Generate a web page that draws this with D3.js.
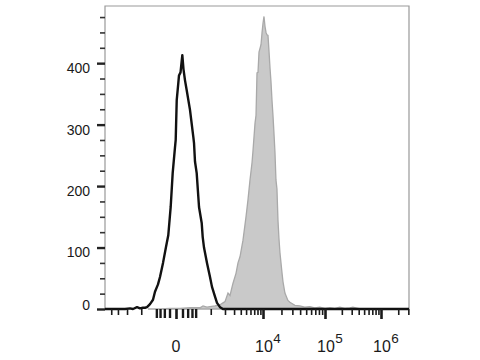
<!DOCTYPE html>
<html>
<head>
<meta charset="utf-8">
<script src="https://cdn.jsdelivr.net/npm/d3@7"></script>
<style>
  html, body { margin: 0; padding: 0; background: #fff; }
  svg { display: block; }
  text { font-family: "Liberation Sans", Arial, Helvetica, sans-serif; fill: #1a1a1a; }
</style>
</head>
<body>
<svg id="chart" width="480" height="360"></svg>
<script>
// ---- data (fluorescence value, event count) ----
const blackX = [-5200, -2192, -1742, -1511, -1243, -1068, -911, -816, -729, -610, -505, -441, -354, -301, -229, -166, -122, -80, -48, -14, -4, 10, 33, 43, 67, 97, 118, 146, 180, 252, 335, 354, 381, 431, 505, 599, 637, 688, 816, 961, 1067, 1243, 1372, 1585, 1825, 3080000];
const blackY = [0, 0, 1, 0, 3, 1, 2, 2, 3, 8, 15, 28, 40, 52, 75, 101, 120, 166, 221, 263, 275, 340, 368, 380, 385, 413, 390, 372, 356, 324, 280, 270, 240, 221, 166, 140, 117, 100, 75, 52, 36, 20, 10, 3, 0, 0];

const grayX = [-688, -301, -92, 59, 252, 538, 649, 816, 961, 1243, 1585, 1826, 2002, 2293, 2508, 2863, 3261, 3553, 3870, 4394, 4984, 5417, 5886, 6392, 6660, 7227, 7529, 7843, 8168, 8507, 9225, 9606, 10002, 10386, 10785, 11202, 11628, 12075, 12537, 13017, 13512, 14029, 14564, 15119, 15695, 16291, 16910, 17552, 18214, 18904, 20359, 21129, 22756, 25435, 27382, 32939, 39611, 47600, 57220, 68770, 82550, 100000, 122500, 150400, 184700, 226500, 278500, 315400, 421300, 3080000];
const grayY = [0, 0, 1, 1, 2, 2, 5, 3, 4, 5, 7, 10, 12, 26, 22, 42, 58, 75, 85, 112, 150, 178, 210, 238, 258, 302, 315, 384, 385, 418, 430, 449, 465, 476, 460, 450, 446, 445, 420, 393, 370, 340, 315, 286, 255, 210, 195, 145, 115, 92, 60, 45, 26, 14, 11, 6, 5, 3, 4, 2, 3, 1, 2, 1, 3, 1, 2, 3, 0, 0];

const yMajorTicks = [0, 100, 200, 300, 400];
const yMinorTicks = [25, 50, 75, 125, 150, 175, 225, 250, 275, 325, 350, 375, 425, 450, 475];
const xMajorTicks = [0, 10000, 100000, 1000000];
const xMajorLabels = [["0", ""], ["10", "4"], ["10", "5"], ["10", "6"]];
const xMidTicks = [-400, -300, -200, -100, 100, 200, 300, 400];
const xMinorTicks = [-4000, -3000, -2000, -1000,
  1000, 2000, 3000, 4000, 5000, 6000, 7000, 8000, 9000,
  20000, 30000, 40000, 50000, 60000, 70000, 80000, 90000,
  200000, 300000, 400000, 500000, 600000, 700000, 800000, 900000,
  2000000, 3000000];

// ---- layout ----
const mLeft = 105, mRight = 409, mTop = 6, mBottom = 309;
const svg = d3.select("#chart");

// biexponential-like x scale: symlog transform, then polylinear fit to the decades
const sym = d3.scaleSymlog().constant(347).domain([-5200, 3080000]).range([0, 1]);
const xLin = d3.scaleLinear()
  .domain([sym(-5200), sym(0), sym(1e4), sym(1e5), sym(1e6), sym(3080000)])
  .range([mLeft, 176, 263, 325, 381, mRight]);
const xs = v => xLin(sym(v));

const y = d3.scaleLinear().domain([0, 493]).range([mBottom, mTop]);

// ---- frame ----
svg.append("path")
  .attr("d", `M${mLeft},${mBottom}V${mTop}H${mRight}V${mBottom}`)
  .attr("fill", "none").attr("stroke", "#999").attr("stroke-width", 1.2);

// ---- histograms ----
const grayData = grayX.map((v, i) => [v, grayY[i]]);
const blackData = blackX.map((v, i) => [v, blackY[i]]);

svg.append("path")
  .datum(grayData)
  .attr("d", d3.area().x(d => xs(d[0])).y0(y(0)).y1(d => y(d[1])))
  .attr("fill", "#c9c9c9").attr("stroke", "#a9a9a9").attr("stroke-width", 1.3);

svg.append("path")
  .datum(blackData)
  .attr("d", d3.line().x(d => xs(d[0])).y(d => y(d[1])))
  .attr("fill", "none").attr("stroke", "#111").attr("stroke-width", 2.4)
  .attr("stroke-linejoin", "round");

// ---- y axis ticks ----
const yAxisMajor = d3.axisLeft(y).tickValues(yMajorTicks).tickSize(8).tickFormat("");
const yAxisMinor = d3.axisLeft(y).tickValues(yMinorTicks).tickSize(5).tickFormat("");
const gyMin = svg.append("g").attr("transform", `translate(${mLeft},0)`).call(yAxisMinor);
const gyMaj = svg.append("g").attr("transform", `translate(${mLeft},0)`).call(yAxisMajor);
[gyMin, gyMaj].forEach(g => g.select(".domain").remove());
gyMin.selectAll("line").attr("stroke", "#333").attr("stroke-width", 1.6);
gyMaj.selectAll("line").attr("stroke", "#222").attr("stroke-width", 2.4);

svg.append("g").selectAll("text")
  .data(yMajorTicks).join("text")
  .attr("x", 90)
  .attr("y", d => d === 0 ? y(d) - 4 : y(d) + 5)
  .attr("dy", "0.35em")
  .attr("text-anchor", "end")
  .attr("font-size", 14)
  .text(d => d);

// ---- x axis ticks ----
function xAxisGroup(vals, size, width) {
  const ax = d3.axisBottom(xLin).tickValues(vals.map(v => sym(v))).tickSize(size).tickFormat("");
  const g = svg.append("g").attr("transform", `translate(0,${mBottom})`).call(ax);
  g.select(".domain").remove();
  g.selectAll("line").attr("stroke", "#1a1a1a").attr("stroke-width", width);
  return g;
}
xAxisGroup(xMinorTicks, 6, 1.6);
xAxisGroup(xMidTicks, 9, 2.4);
xAxisGroup(xMajorTicks, 10, 2.6);

const lab = svg.append("g").selectAll("text")
  .data(xMajorTicks).join("text")
  .attr("x", (d, i) => i === 0 ? xs(d) : xs(d) - 8)
  .attr("y", 352)
  .attr("text-anchor", (d, i) => i === 0 ? "middle" : "start")
  .attr("font-size", 16);
lab.append("tspan").text((d, i) => xMajorLabels[i][0]);
lab.append("tspan").attr("dy", -9).attr("dx", 0.5).attr("font-size", 13.5)
  .text((d, i) => xMajorLabels[i][1]);
</script>
</body>
</html>
